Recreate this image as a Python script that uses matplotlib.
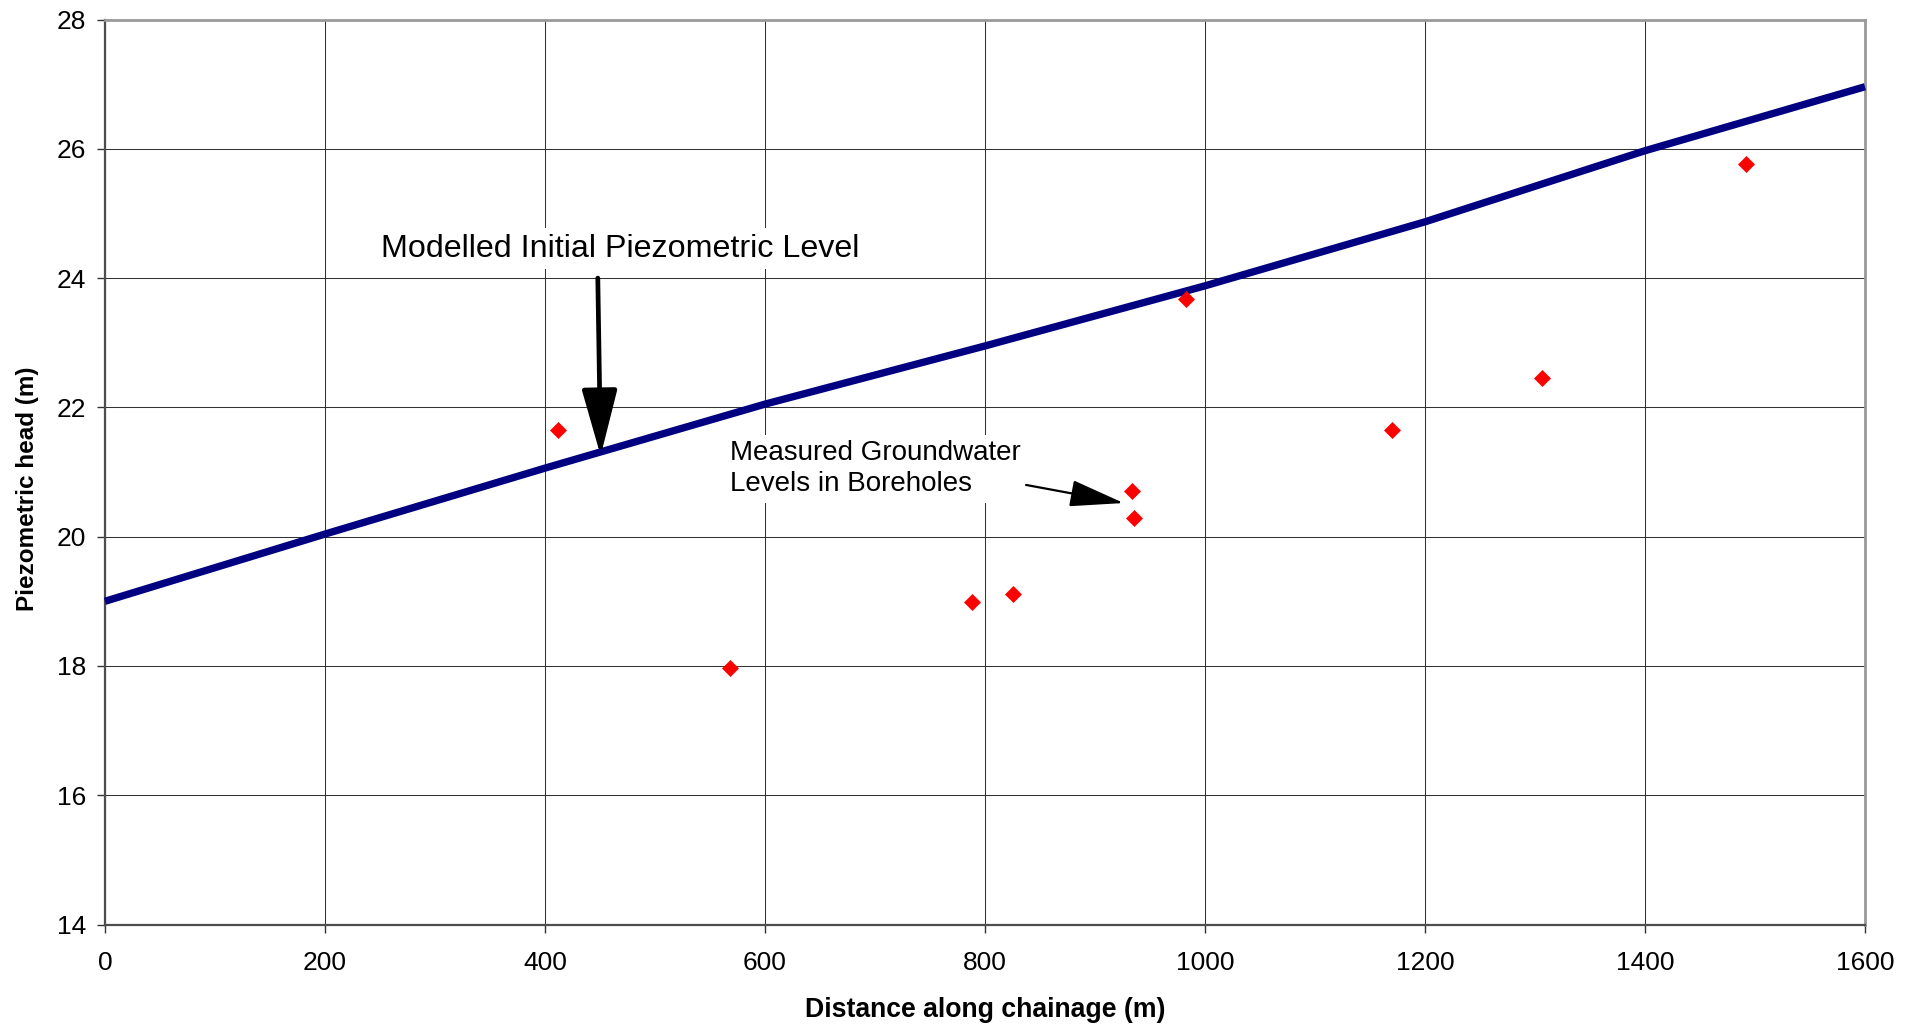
import matplotlib
matplotlib.use("Agg")
import matplotlib.pyplot as plt

plt.rcParams['font.family'] = ['Liberation Sans', 'DejaVu Sans']

# Modelled initial piezometric level (line)
model_x = [0, 200, 400, 600, 800, 1000, 1200, 1400, 1600]
model_y = [19.0, 20.04, 21.06, 22.05, 22.95, 23.88, 24.87, 25.97, 26.96]

# Measured groundwater levels in boreholes (points)
bh_x = [412, 568, 788, 825, 934, 935, 983, 1170, 1306, 1492]
bh_y = [21.65, 17.97, 18.99, 19.12, 20.71, 20.29, 23.67, 21.65, 22.46, 25.77]

x_ticks = [0, 200, 400, 600, 800, 1000, 1200, 1400, 1600]
y_ticks = [14, 16, 18, 20, 22, 24, 26, 28]

x_label = "Distance along chainage (m)"
y_label = "Piezometric head (m)"
label_model = "Modelled Initial Piezometric Level"
label_bh = "Measured Groundwater\nLevels in Boreholes"

fig = plt.figure(figsize=(19.15, 10.26), dpi=100)
ax = fig.add_axes([105/1915, 1 - 924.5/1026, 1760/1915, 905/1026])

ax.grid(True, color='#333333', linewidth=0.75, zorder=0)
ax.set_axisbelow(True)

ax.plot(model_x, model_y, color='#000080', linewidth=5.3, solid_capstyle='butt',
        zorder=3, clip_on=False)
ax.plot(bh_x, bh_y, linestyle='none', marker='D', markersize=8,
        markerfacecolor='#ff0000', markeredgecolor='#ff0000', markeredgewidth=0.5, zorder=4)

ax.set_xlim(0, 1600)
ax.set_ylim(14, 28)
ax.set_xticks(x_ticks)
ax.set_yticks(y_ticks)
ax.tick_params(axis='both', labelsize=19, color='#333333', width=1, length=6)
ax.tick_params(axis='y', direction='out', pad=7.5)
ax.tick_params(axis='x', direction='out', pad=13)

for side in ['top', 'right']:
    ax.spines[side].set_color('#999999')
    ax.spines[side].set_linewidth(2)
for side in ['left', 'bottom']:
    ax.spines[side].set_color('#4d4d4d')
    ax.spines[side].set_linewidth(1.6)

ax.set_xlabel(x_label, fontsize=19.2, fontweight='bold')
ax.set_ylabel(y_label, fontsize=17.5, fontweight='bold')
ax.xaxis.set_label_coords(0.5, -0.0945)
ax.xaxis.label.set_va('center')
ax.yaxis.set_label_coords(-0.0438, 0.482)
ax.yaxis.label.set_va('center')

# Annotations
ax.text(251, 24.33, label_model, fontsize=23.2, ha='left', va='baseline', zorder=5,
        bbox=dict(facecolor='white', edgecolor='none', pad=4))
ax.annotate('', xy=(450.6, 21.25), xytext=(448, 24.0),
            arrowprops=dict(arrowstyle='-|>,head_length=2.05,head_width=0.55',
                            mutation_scale=20, lw=3.4, color='black',
                            shrinkA=0, shrinkB=0), zorder=5)

ax.text(568, 21.05, label_bh, fontsize=20, ha='left', va='center', linespacing=1.25,
        zorder=5, bbox=dict(facecolor='white', edgecolor='none', pad=4))
ax.annotate('', xy=(926, 20.52), xytext=(837.3, 20.8),
            arrowprops=dict(arrowstyle='-|>,head_length=1.7,head_width=0.42',
                            mutation_scale=20, lw=1.6, color='black',
                            shrinkA=0, shrinkB=0), zorder=5)

fig.savefig('out.png', dpi=100, facecolor='white')
